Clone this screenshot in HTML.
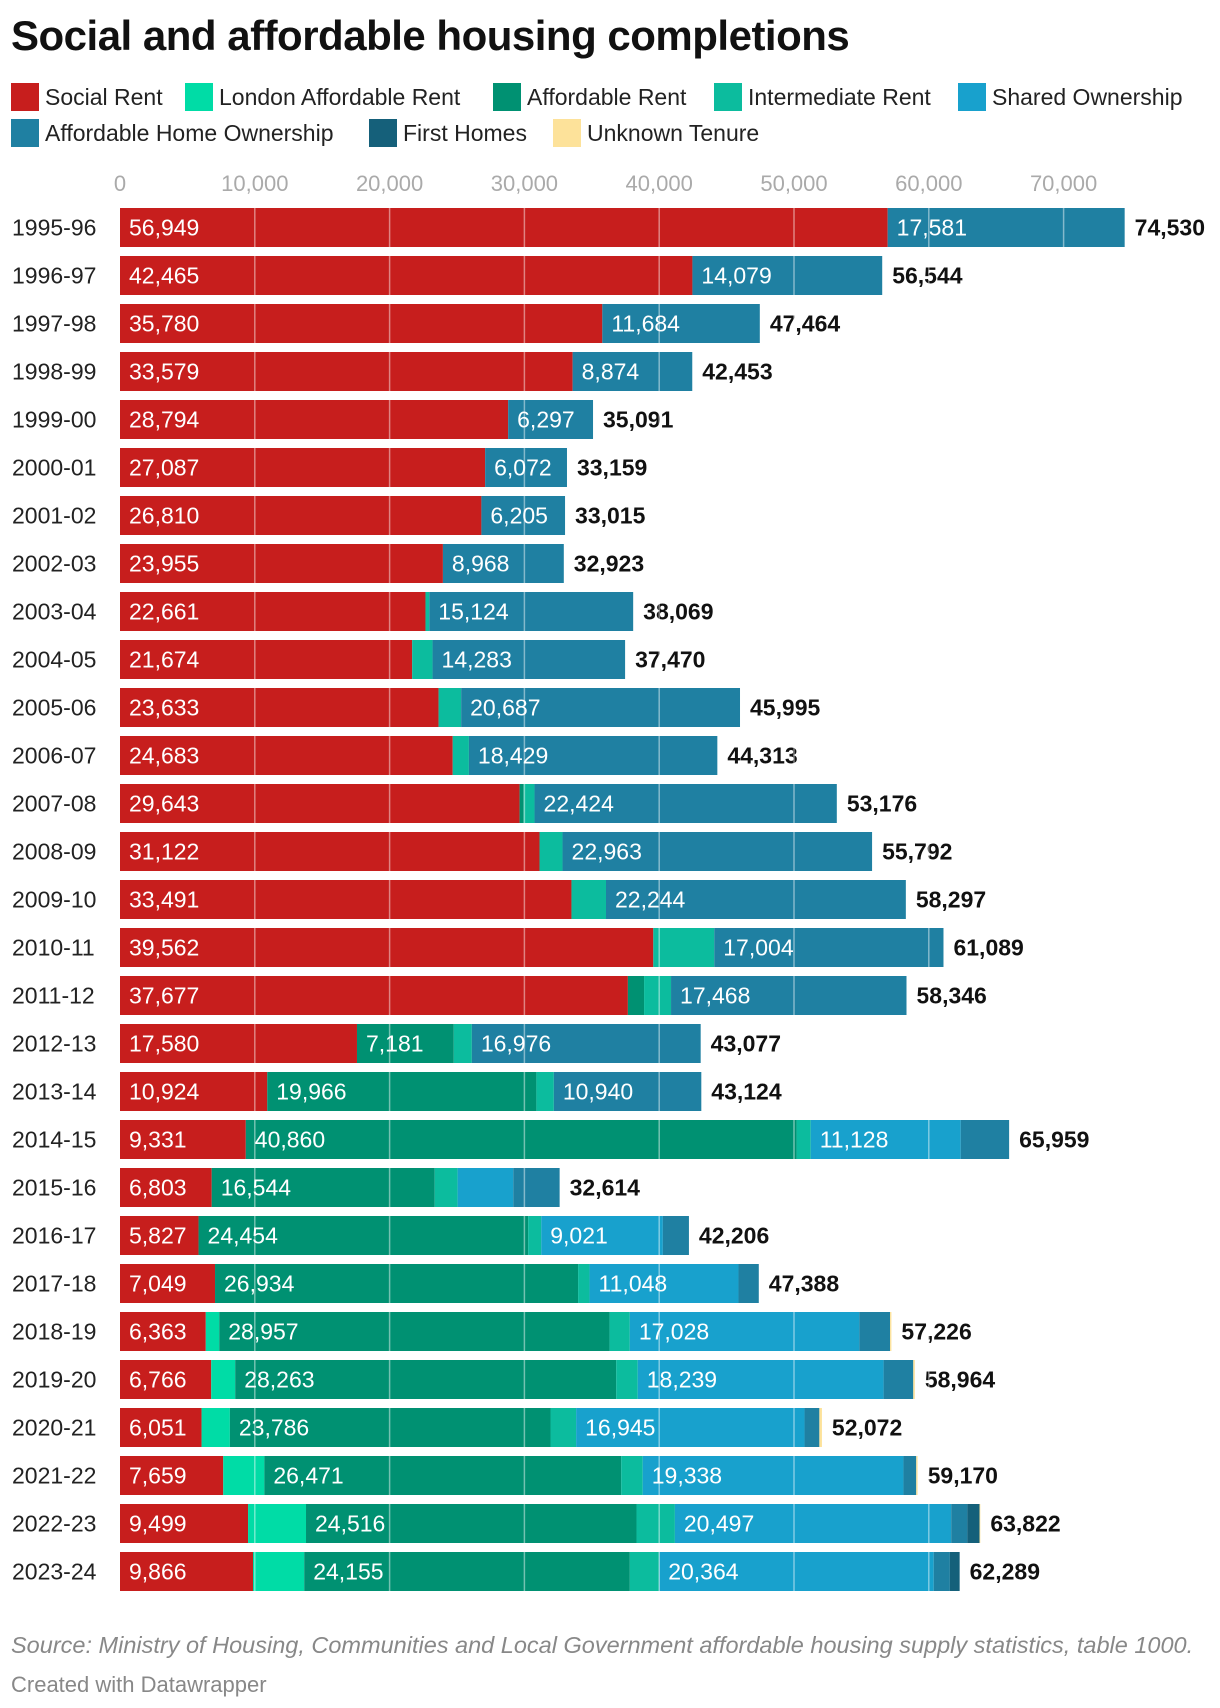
<!DOCTYPE html>
<html><head><meta charset="utf-8">
<style>
body{margin:0;background:#fff;font-family:"Liberation Sans",sans-serif;}
#wrap{position:relative;width:1220px;height:1708px;overflow:hidden;}
h1{position:absolute;left:11px;top:12px;margin:0;font-size:42px;font-weight:bold;color:#111;letter-spacing:-0.5px;}
.leg{position:absolute;font-size:23px;color:#222;display:flex;align-items:center;white-space:nowrap;}
.sw{width:28px;height:28px;margin-right:6px;display:inline-block;}
.foot{position:absolute;left:11px;font-size:20px;color:#888;}
</style></head><body>
<div id="wrap">
<h1>Social and affordable housing completions</h1>
<div id="legend"></div>
<svg id="chart" width="1220" height="1640" style="position:absolute;left:0;top:0"></svg>
<div class="foot" style="top:1632px;font-style:italic;font-size:23.5px">Source: Ministry of Housing, Communities and Local Government affordable housing supply statistics, table 1000.</div>
<div class="foot" style="top:1672px;font-size:22px">Created with Datawrapper</div>
</div>
<script>
const years=["1995-96","1996-97","1997-98","1998-99","1999-00","2000-01","2001-02","2002-03","2003-04","2004-05","2005-06","2006-07","2007-08","2008-09","2009-10","2010-11","2011-12","2012-13","2013-14","2014-15","2015-16","2016-17","2017-18","2018-19","2019-20","2020-21","2021-22","2022-23","2023-24"];
const seriesNames=["Social Rent","London Affordable Rent","Affordable Rent","Intermediate Rent","Shared Ownership","Affordable Home Ownership","First Homes","Unknown Tenure"];
const socialRent=[56949,42465,35780,33579,28794,27087,26810,23955,22661,21674,23633,24683,29643,31122,33491,39562,37677,17580,10924,9331,6803,5827,7049,6363,6766,6051,7659,9499,9866];
const londonAffordableRent=[0,0,0,0,0,0,0,0,0,0,0,0,0,0,0,0,0,0,0,0,0,0,0,1000,1780,2100,3050,4300,3800];
const affordableRent=[0,0,0,0,0,0,0,0,0,0,0,0,300,0,0,0,1200,7181,19966,40860,16544,24454,26934,28957,28263,23786,26471,24516,24155];
const intermediateRent=[0,0,0,0,0,0,0,0,284,1513,1675,1201,809,1707,2562,4523,2001,1340,1294,1050,1700,970,850,1500,1600,1900,1600,2850,2180];
const sharedOwnership=[0,0,0,0,0,0,0,0,0,0,0,0,0,0,0,0,0,0,0,11128,4130,9021,11048,17028,18239,16945,19338,20497,20364];
const affordableHomeOwnership=[17581,14079,11684,8874,6297,6072,6205,8968,15124,14283,20687,18429,22424,22963,22244,17004,17468,16976,10940,3590,3437,1934,1507,2278,2200,1100,950,1200,1200];
const firstHomes=[0,0,0,0,0,0,0,0,0,0,0,0,0,0,0,0,0,0,0,0,0,0,0,0,0,0,0,900,724];
const unknownTenure=[0,0,0,0,0,0,0,0,0,0,0,0,0,0,0,0,0,0,0,0,0,0,0,100,116,190,102,60,0];
const totals=[74530,56544,47464,42453,35091,33159,33015,32923,38069,37470,45995,44313,53176,55792,58297,61089,58346,43077,43124,65959,32614,42206,47388,57226,58964,52072,59170,63822,62289];
const ticks=[0,10000,20000,30000,40000,50000,60000,70000];

const series=[socialRent,londonAffordableRent,affordableRent,intermediateRent,sharedOwnership,affordableHomeOwnership,firstHomes,unknownTenure];
const colors=["#c71e1d","#00dca6","#009172","#0cbc9e","#18a1cd","#1f80a2","#15607a","#fde29a"];
const slugs=["social-rent","london-affordable-rent","affordable-rent","intermediate-rent","shared-ownership","affordable-home-ownership","first-homes","unknown-tenure"];

const X0=120, PX=0.01348;
const x=v=>X0+v*PX;
const rowY=i=>208+i*48.0;
const BH=39;
const NS="http://www.w3.org/2000/svg";
const svg=document.getElementById('chart');
function mk(tag,attrs){const e=document.createElementNS(NS,tag);for(const k in attrs)e.setAttribute(k,attrs[k]);svg.appendChild(e);return e;}

const legPos=[[11,97],[185,97],[493,97],[714,97],[958,97],[11,133],[369,133],[553,133]];
const legend=document.getElementById('legend');
seriesNames.forEach((n,k)=>{
  const d=document.createElement('div');
  d.className='leg';
  d.style.left=legPos[k][0]+'px';d.style.top=(legPos[k][1]-14)+'px';
  
  
  d.innerHTML='<span class="sw" style="background:'+colors[k]+'"></span>'+n;
  legend.appendChild(d);
});

ticks.forEach(t=>{
  const e=mk('text',{x:x(t),y:191,'text-anchor':'middle','font-size':'22','fill':'#aaa','font-family':'Liberation Sans, sans-serif'});
  
  
  e.textContent=t.toLocaleString('en-US');
});

years.forEach((yr,i)=>{
  const y=rowY(i);
  const lab=mk('text',{x:12,y:y+BH/2+8,'font-size':'23','fill':'#222','font-family':'Liberation Sans, sans-serif'});
  
  
  lab.textContent=yr;
  let acc=0;
  series.forEach((s,k)=>{
    const v=s[i]; if(!v) return;
    const r=mk('rect',{x:x(acc),y:y,width:v*PX,height:BH,fill:colors[k]});
    
    
    if(v>=5000){
      const t=mk('text',{x:x(acc)+9,y:y+BH/2+8,'font-size':'23','fill':'#fff','font-family':'Liberation Sans, sans-serif'});
      
      
      t.textContent=v.toLocaleString('en-US');
    }
    acc+=v;
  });
  const tl=mk('text',{x:x(totals[i])+10,y:y+BH/2+8,'font-size':'23','font-weight':'bold','fill':'#111','font-family':'Liberation Sans, sans-serif'});
  
  
  tl.textContent=totals[i].toLocaleString('en-US');
});

ticks.forEach(t=>{
  if(t===0)return;
  const l=mk('line',{x1:x(t),x2:x(t),y1:203,y2:rowY(years.length-1)+BH,stroke:'rgba(255,255,255,0.45)','stroke-width':1.5});
  
  
});
</script>
</body></html>
